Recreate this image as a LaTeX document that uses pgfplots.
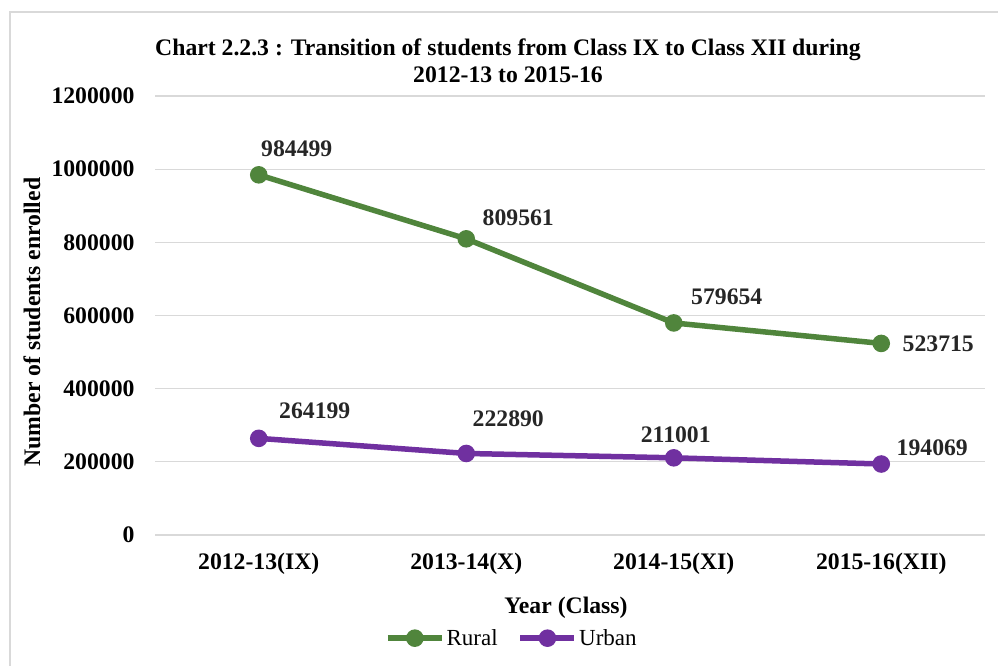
\documentclass[border=0pt]{standalone}
\usepackage{pgfplots}
\pgfplotsset{compat=1.18}
\usepackage{pgfplotstable}
\usepackage{fontspec}
\setmainfont{Liberation Serif}
\definecolor{rural}{RGB}{80,133,60}
\definecolor{urban}{RGB}{112,48,160}
\definecolor{gridc}{RGB}{217,217,217}
\newcommand\ff{\fontsize{23.7}{27}\selectfont}
\newcommand\fl{\fontsize{23}{27}\selectfont}
\pgfplotstableread{
x y dx dy
0 984499 38 26
1 809561 52 21
2 579654 53 26
3 523715 57 0
}\rural
\pgfplotstableread{
x y dx dy
0 264199 56 28
1 222890 42 35
2 211001 2 23
3 194069 51 16
}\urban
\begin{document}
\begin{tikzpicture}[x=1pt,y=1pt]
\useasboundingbox (0,0) rectangle (998,665);
\draw[gridc, line width=1.5pt] (10,-20) rectangle (1020,653);
\node[font=\bfseries\ff, align=center] at (508,604) {Chart 2.2.3 : Transition of students from Class IX to Class XII during\\2012-13 to 2015-16};
\node[font=\bfseries\ff, rotate=90] at (32,343) {Number of students enrolled};
\node[font=\bfseries\ff] at (566,57) {Year (Class)};
\begin{axis}[
  at={(155pt,130pt)}, anchor=south west,
  scale only axis, width=830pt, height=439pt,
  xmin=-0.5, xmax=3.5, ymin=0, ymax=1200000,
  xtick={0,1,2,3},
  xticklabels={2012-13(IX),2013-14(X),2014-15(XI),2015-16(XII)},
  ytick={0,200000,400000,600000,800000,1000000,1200000},
  scaled y ticks=false,
  /pgf/number format/assume math mode=true,
  yticklabel style={/pgf/number format/fixed,/pgf/number format/1000 sep={}},
  ticklabel style={font=\bfseries\ff},
  xticklabel style={yshift=-15pt},
  yticklabel style={xshift=-17pt},
  axis line style={draw=none},
  major tick style={draw=none},
  ymajorgrids, grid style={gridc, line width=1.2pt},
  clip=false,
  point meta=explicit symbolic,
  nodes near coords,
  nodes near coords style={font=\bfseries\ff, anchor=center, xshift=\dx pt, yshift=\dy pt, text=black!85},
  visualization depends on={\thisrow{dx} \as \dx},
  visualization depends on={\thisrow{dy} \as \dy},
  legend style={at={(0.43,-0.235)}, anchor=center, draw=none, fill=none, legend columns=2, font=\fl,
    /tikz/every even column/.append style={column sep=18pt}},
  legend image code/.code={\draw[mark repeat=2,mark phase=2,#1] plot coordinates {(0pt,0pt) (27pt,0pt) (54pt,0pt)};},
]
\addplot[rural, line width=5.5pt, mark=*, mark size=6pt] table[x=x,y=y,meta=y] {\rural};
\addlegendentry{Rural}
\addplot[urban, line width=5.5pt, mark=*, mark size=6pt] table[x=x,y=y,meta=y] {\urban};
\addlegendentry{Urban}
\end{axis}
\end{tikzpicture}
\end{document}
